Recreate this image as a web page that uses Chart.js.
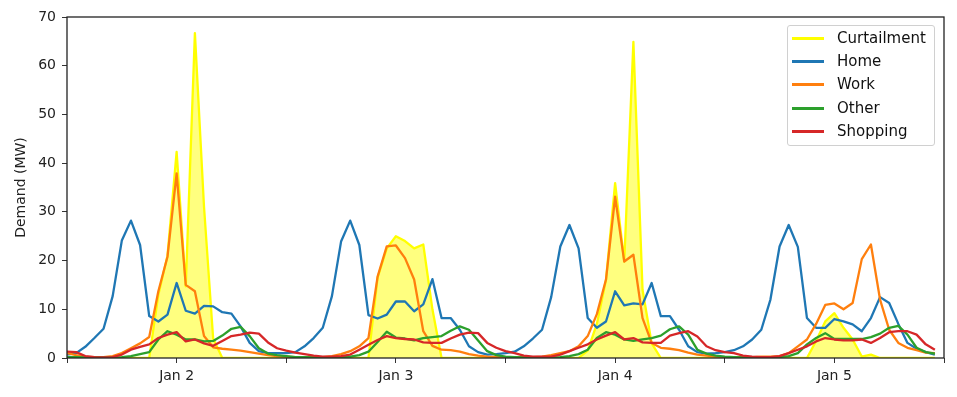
<!DOCTYPE html>
<html>
<head>
<meta charset="utf-8">
<script src="https://cdn.jsdelivr.net/npm/chart.js@4.4.1/dist/chart.umd.min.js"></script>
<style>
  body { margin: 0; background: #fff; }
  #wrap { position: relative; width: 957px; height: 397px; }
  #legend {
    position: absolute; left: 787px; top: 25px; width: 148px; height: 121px;
    border: 1px solid #d0d0d0; border-radius: 3px; background: rgba(255,255,255,0.85);
    box-sizing: border-box; font-family: 'DejaVu Sans', sans-serif; font-size: 15px; color: #111;
  }
  #legend .row { position: absolute; left: 0; height: 20px; line-height: 20px; }
  #legend .swatch { position: absolute; left: 4px; top: 9px; width: 32px; height: 2.5px; }
  #legend .txt { position: absolute; left: 49px; top: 0; white-space: nowrap; }
</style>
</head>
<body>
<div id="wrap">
  <canvas id="myChart" width="957" height="397"></canvas>
  <div id="legend"></div>
</div>
<script>
// hourly values starting Jan 1 12:00
const seriesNames = ['Curtailment', 'Home', 'Work', 'Other', 'Shopping'];
const seriesColors = ['#ffff00', '#1f77b4', '#ff7f0e', '#2ca02c', '#d62728'];

const curtailment = [
  0, 0, 0, 0, 0, 0, 0, 0, 0, 0, 13, 21, 42.3, 14.7, 66.7, 31, 4, 0, 0, 0, 0, 0, 0, 0,
  0, 0, 0, 0, 0, 0, 0, 0, 0, 0, 16.5, 22.5, 25, 24, 22.5, 23.3, 10, 0, 0, 0, 0, 0, 0, 0,
  0, 0, 0, 0, 0, 0, 0, 0, 0, 1.5, 7, 16, 35.9, 19.8, 64.9, 14, 3, 0, 0, 0, 0, 0, 0, 0,
  0, 0, 0, 0, 0, 0, 0, 0, 0, 0, 3.5, 7.5, 9.2, 6.2, 3.8, 0.3, 0.7, 0, 0, 0, 0, 0, 0, 0
];
const home = [
  0.7, 1.0, 2.3, 4.1, 6.0, 12.7, 24.1, 28.2, 23.2, 8.6, 7.5, 8.9, 15.4, 9.7, 9.1, 10.7, 10.6, 9.4, 9.1, 6.5, 3.1, 1.4, 1.0, 1.0,
  1.0, 1.2, 2.4, 4.1, 6.2, 12.7, 23.9, 28.2, 23.2, 8.8, 8.1, 8.9, 11.6, 11.6, 9.6, 11.0, 16.2, 8.2, 8.2, 5.8, 2.4, 1.2, 0.7, 0.8,
  1.0, 1.3, 2.4, 4.0, 5.8, 12.5, 22.9, 27.3, 22.5, 8.2, 6.2, 7.5, 13.7, 10.8, 11.2, 11.0, 15.4, 8.6, 8.6, 5.8, 2.4, 1.2, 0.9, 1.0,
  1.2, 1.6, 2.4, 3.8, 5.8, 12.0, 22.9, 27.3, 22.8, 8.2, 6.2, 6.2, 8.0, 7.5, 6.9, 5.5, 8.2, 12.5, 11.3, 7.0, 3.1, 1.9, 1.2, 0.7
];
const work = [
  1.0, 0.6, 0.3, 0.2, 0.2, 0.4, 1.0, 2.0, 3.0, 4.3, 13.7, 20.8, 37.9, 15.0, 13.7, 4.5, 2.2, 1.9, 1.7, 1.5, 1.2, 0.9, 0.6, 0.4,
  0.3, 0.2, 0.2, 0.2, 0.2, 0.4, 0.8, 1.4, 2.4, 4.1, 16.7, 22.9, 23.1, 20.5, 16.1, 5.5, 2.5, 1.7, 1.6, 1.3, 0.8, 0.5, 0.3, 0.2,
  0.2, 0.2, 0.2, 0.2, 0.3, 0.6, 1.0, 1.4, 2.4, 4.5, 9.0, 16.1, 33.1, 19.8, 21.2, 8.2, 3.1, 2.1, 1.9, 1.6, 1.1, 0.7, 0.5, 0.3,
  0.2, 0.2, 0.2, 0.2, 0.3, 0.3, 0.4, 1.0, 2.4, 3.8, 7.0, 10.9, 11.2, 10.0, 11.3, 20.3, 23.3, 12.0, 5.8, 3.1, 2.1, 1.6, 1.1, 1.0
];
const other = [
  0.2, 0.2, 0.1, 0.1, 0.1, 0.1, 0.2, 0.4, 0.8, 1.2, 3.8, 5.5, 4.8, 3.8, 3.8, 3.4, 3.5, 4.6, 6.0, 6.4, 4.5, 2.0, 0.9, 0.6,
  0.4, 0.2, 0.2, 0.1, 0.1, 0.1, 0.2, 0.3, 0.6, 1.3, 3.3, 5.4, 4.2, 4.0, 3.6, 4.1, 4.3, 4.5, 5.6, 6.5, 5.8, 3.6, 1.4, 0.6,
  0.3, 0.2, 0.1, 0.1, 0.1, 0.1, 0.2, 0.4, 0.8, 1.7, 4.1, 5.3, 4.8, 3.8, 3.5, 3.8, 4.1, 4.6, 5.9, 6.5, 4.8, 1.7, 0.9, 0.5,
  0.3, 0.2, 0.1, 0.1, 0.1, 0.1, 0.2, 0.4, 1.0, 2.8, 4.1, 5.1, 3.9, 3.9, 3.9, 3.9, 4.3, 5.0, 6.2, 6.6, 4.8, 2.1, 1.2, 0.9
];
const shopping = [
  1.3, 1.2, 0.4, 0.2, 0.1, 0.2, 0.7, 1.7, 2.3, 2.8, 4.1, 4.8, 5.3, 3.4, 3.8, 3.0, 2.5, 3.5, 4.5, 4.8, 5.2, 5.0, 3.2, 2.0,
  1.5, 1.1, 0.8, 0.5, 0.3, 0.3, 0.4, 0.7, 1.7, 2.7, 3.7, 4.5, 4.1, 3.9, 3.8, 3.2, 3.1, 3.1, 4.0, 4.8, 5.2, 5.1, 3.1, 2.1,
  1.4, 1.0, 0.5, 0.3, 0.3, 0.3, 0.7, 1.4, 2.1, 2.8, 3.8, 4.6, 5.3, 3.8, 4.1, 3.2, 3.1, 3.1, 4.6, 5.1, 5.5, 4.4, 2.4, 1.6,
  1.2, 1.0, 0.5, 0.3, 0.2, 0.2, 0.4, 1.0, 1.7, 2.4, 3.4, 4.1, 3.8, 3.6, 3.6, 3.8, 3.1, 4.1, 5.3, 5.5, 5.5, 4.8, 2.8, 1.7
];

const dayTickHours = [12, 36, 60, 84];
const dayTickLabels = ['Jan 2', 'Jan 3', 'Jan 4', 'Jan 5'];
const yTicks = [0, 10, 20, 30, 40, 50, 60, 70];

const allSeries = [curtailment, home, work, other, shopping];
const toPoints = arr => arr.map((v, i) => ({ x: i, y: v }));

const datasets = allSeries.map((arr, k) => ({
    label: seriesNames[k],
    data: toPoints(arr),
    borderColor: seriesColors[k],
    backgroundColor: k === 0 ? 'rgba(255, 255, 0, 0.5)' : seriesColors[k],
    fill: k === 0 ? 'origin' : false,
    borderWidth: 2.3,
    pointRadius: 0,
    tension: 0,
    borderJoinStyle: 'round',
    order: allSeries.length - k
}));

// matplotlib-like box around the plot area
const frame = {
    id: 'frame',
    afterDraw(chart) {
        const { ctx, chartArea: a } = chart;
        ctx.save();
        ctx.strokeStyle = '#222';
        ctx.lineWidth = 1.3;
        ctx.strokeRect(a.left, a.top, a.right - a.left, a.bottom - a.top);
        ctx.restore();
    }
};

const tickFont = { family: 'DejaVu Sans', size: 14 };

new Chart(document.getElementById('myChart').getContext('2d'), {
    type: 'line',
    data: { datasets },
    options: {
        responsive: false,
        animation: false,
        devicePixelRatio: 1,
        layout: { padding: { left: 0, right: 13, top: 17, bottom: 0 } },
        plugins: { legend: { display: false }, tooltip: { enabled: false } },
        scales: {
            x: {
                type: 'linear',
                min: 0,
                max: 96,
                afterFit: s => { s.height = 39; },
                afterBuildTicks: s => {
                    const t = [];
                    for (let h = 0; h <= 96; h += 12) t.push({ value: h });
                    s.ticks = t;
                },
                ticks: {
                    autoSkip: false,
                    maxRotation: 0,
                    padding: 5,
                    color: '#222',
                    font: tickFont,
                    callback: v => {
                        const i = dayTickHours.indexOf(v);
                        return i >= 0 ? dayTickLabels[i] : '';
                    }
                },
                grid: { drawOnChartArea: false, drawTicks: true, tickLength: 5, tickColor: '#333' },
                border: { display: false }
            },
            y: {
                min: 0,
                max: 70,
                afterFit: s => { s.width = 67; },
                afterBuildTicks: s => { s.ticks = yTicks.map(v => ({ value: v })); },
                ticks: { padding: 6, color: '#222', font: tickFont },
                grid: { drawOnChartArea: false, drawTicks: true, tickLength: 5, tickColor: '#333' },
                border: { display: false },
                title: {
                    display: true,
                    text: 'Demand (MW)',
                    color: '#222',
                    font: { family: 'DejaVu Sans', size: 14 },
                    padding: { top: 13, bottom: 0 }
                }
            }
        }
    },
    plugins: [frame]
});

// legend drawn as html over the canvas
const legendEl = document.getElementById('legend');
const rowTops = [2, 25, 48, 72, 95];
seriesNames.forEach((name, k) => {
    const row = document.createElement('div');
    row.className = 'row';
    row.style.top = rowTops[k] + 'px';
    row.innerHTML = '<span class="swatch" style="background:' + seriesColors[k] + '"></span>' +
        '<span class="txt">' + name + '</span>';
    legendEl.appendChild(row);
});
</script>
</body>
</html>
